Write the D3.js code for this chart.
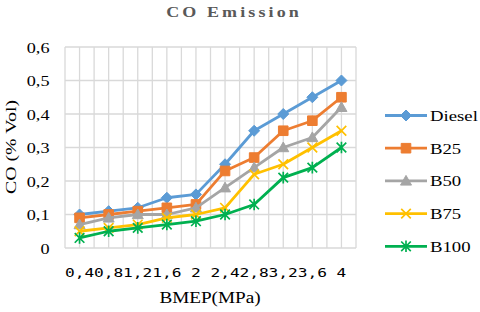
<!DOCTYPE html>
<html><head><meta charset="utf-8">
<script src="https://cdn.jsdelivr.net/npm/d3@7"></script>
<style>html,body{margin:0;padding:0;background:#fff;}svg{display:block;}
.sf{font-family:"Liberation Serif","DejaVu Serif",serif;}
.mono{font-family:"DejaVu Sans Mono","Liberation Mono",monospace;}
</style>
</head><body>
<script>
const categories = ["0,4","0,8","1,2","1,6","2","2,4","2,8","3,2","3,6","4"];
const seriesNames = ["Diesel","B25","B50","B75","B100"];
const diesel = [0.10,0.11,0.12,0.15,0.16,0.25,0.35,0.40,0.45,0.50];
const b25    = [0.09,0.10,0.11,0.12,0.13,0.23,0.27,0.35,0.38,0.45];
const b50    = [0.07,0.09,0.10,0.10,0.12,0.18,0.24,0.30,0.33,0.42];
const b75    = [0.05,0.06,0.07,0.09,0.10,0.12,0.22,0.25,0.30,0.35];
const b100   = [0.03,0.05,0.06,0.07,0.08,0.10,0.13,0.21,0.24,0.30];
const yTicks = [0,0.1,0.2,0.3,0.4,0.5,0.6];
const yTickLabels = ["0","0,1","0,2","0,3","0,4","0,5","0,6"];

const seriesValues = [diesel,b25,b50,b75,b100];
const colors = ["#5B9BD5","#ED7D31","#A5A5A5","#FFC000","#00B050"];
const markers = [
  {d:"M0,-5.5L5.5,0L0,5.5L-5.5,0Z", fill:true},
  {d:"M-4.8,-4.8h9.6v9.6h-9.6Z", fill:true},
  {d:"M0,-5.5L5.5,4.2L-5.5,4.2Z", fill:true},
  {d:"M-4.8,-4.8L4.8,4.8M4.8,-4.8L-4.8,4.8", fill:false},
  {d:"M-4.8,-4.8L4.8,4.8M4.8,-4.8L-4.8,4.8M0,-5.8L0,5.8", fill:false}
];

const W=480,H=312;
const svg = d3.select("body").append("svg").attr("width",W).attr("height",H);

const x = d3.scaleBand().domain(categories).range([65,356]);
const y = d3.scaleLinear().domain([0,0.6]).range([248,47]);
const bw = x.bandwidth();

// gridlines
const grid = svg.append("g").attr("stroke","#d9d9d9").attr("stroke-width",1.3);
yTicks.forEach(t=>{
  grid.append("line").attr("x1",65).attr("x2",356).attr("y1",y(t)).attr("y2",y(t));
});
const vx = [];
categories.forEach(c=>{ vx.push(x(c)); vx.push(x(c)+bw/2); });
vx.push(x.range()[1]);
vx.forEach(v=>{
  grid.append("line").attr("x1",v).attr("x2",v).attr("y1",y(0.6)).attr("y2",y(0));
});

// axes
const gx = svg.append("g").attr("transform","translate(0,248)")
  .call(d3.axisBottom(x).tickSize(0));
gx.attr("font-family",null).attr("font-size",null);
gx.select(".domain").remove();
gx.selectAll("text")
  .attr("y",29).attr("dy",null)
  .attr("transform","scale(1.35,1)")
  .attr("class","mono")
  .style("font-size","12px").attr("fill","#000");

const gy = svg.append("g").attr("transform","translate(65,0)")
  .call(d3.axisLeft(y).tickValues(yTicks).tickFormat((d,i)=>yTickLabels[i]).tickSize(0));
gy.attr("font-family",null).attr("font-size",null);
gy.select(".domain").remove();
gy.selectAll("text")
  .attr("x",-15.5/1.3).attr("y",5).attr("dy",null)
  .attr("text-anchor","end")
  .attr("transform","scale(1.3,1)")
  .attr("class","sf")
  .style("font-size","14px").attr("fill","#000");

// series
const line = d3.line().x((d,i)=>x(categories[i])+bw/2).y(d=>y(d));
seriesValues.forEach((vals,si)=>{
  const g = svg.append("g");
  g.append("path").attr("d",line(vals)).attr("fill","none")
    .attr("stroke",colors[si]).attr("stroke-width",2.8).attr("stroke-linejoin","round");
  vals.forEach((v,i)=>{
    const m = markers[si];
    g.append("path").attr("d",m.d)
      .attr("transform",`translate(${x(categories[i])+bw/2},${y(v)})`)
      .attr("fill",m.fill?colors[si]:"none")
      .attr("stroke",colors[si]).attr("stroke-width",m.fill?1:1.7);
  });
});

// stretched text helper
function stext(xp,yp,txt,opts){
  const g = svg.append("g").attr("transform",`translate(${xp},${yp})${opts.rotate?` rotate(${opts.rotate})`:""} scale(${opts.sx||1},1)`);
  const t = g.append("text").attr("x",0).attr("y",0).text(txt)
    .attr("class","sf").style("font-size",opts.size+"px")
    .attr("text-anchor",opts.anchor||"start").attr("fill",opts.fill||"#000");
  if(opts.weight) t.style("font-weight",opts.weight);
  if(opts.ls) t.style("letter-spacing",opts.ls+"px");
  return t;
}

// title
stext(234,17,"CO Emission",{size:15,sx:1.2,anchor:"middle",weight:"bold",ls:2.6,fill:"#595959"});
// axis titles
stext(210,303,"BMEP(MPa)",{size:16,sx:1.2,anchor:"middle"});
stext(16,147,"CO (% Vol)",{size:15.5,sx:1.28,anchor:"middle",rotate:-90});

// legend
const legY = [115.5,148.2,180.9,213.6,246.3];
seriesNames.forEach((n,si)=>{
  const g = svg.append("g");
  g.append("line").attr("x1",385).attr("x2",427).attr("y1",legY[si]).attr("y2",legY[si])
    .attr("stroke",colors[si]).attr("stroke-width",2.8);
  const m = markers[si];
  g.append("path").attr("d",m.d).attr("transform",`translate(406,${legY[si]})`)
    .attr("fill",m.fill?colors[si]:"none").attr("stroke",colors[si]).attr("stroke-width",m.fill?1:1.7);
  stext(430,legY[si]+5.5,n,{size:15,sx:1.25});
});
</script>
</body></html>
